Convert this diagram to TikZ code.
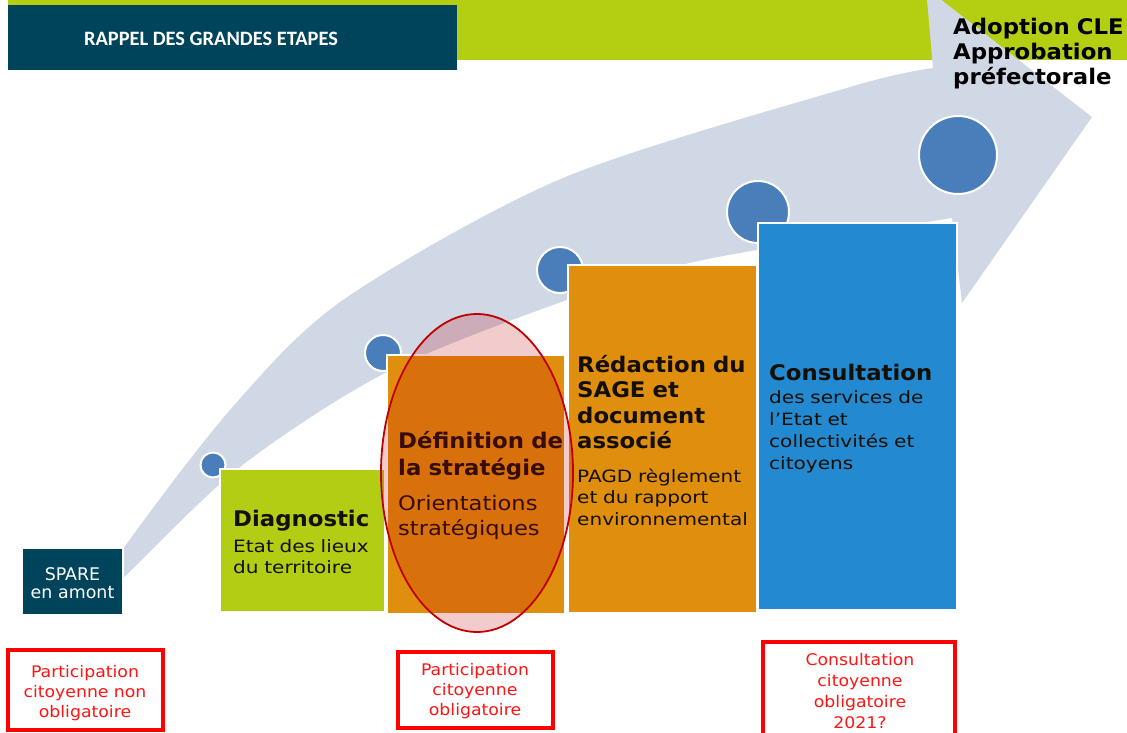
\documentclass[tikz,border=0pt]{standalone}
\usepackage{fontspec}
\usetikzlibrary{shapes.geometric}
\newfontfamily\fR[FakeStretch=1.18]{DejaVu Sans}
\newfontfamily\fB[FakeStretch=1.06]{DejaVu Sans}
\newfontfamily\fO[FakeStretch=1.13]{DejaVu Sans}
\newfontfamily\fN{DejaVu Sans}
\newfontfamily\fM[FakeStretch=1.08]{DejaVu Sans}
\newfontfamily\fH{Carlito}
\definecolor{cGreen}{RGB}{180,206,18}
\definecolor{cNavy}{RGB}{0,68,92}
\definecolor{cArrow}{RGB}{208,216,230}
\definecolor{cDot}{RGB}{74,126,187}
\definecolor{cOrange}{RGB}{223,142,14}
\definecolor{cBlue}{RGB}{35,137,208}
\definecolor{cLime}{RGB}{179,204,20}
\definecolor{cEll}{RGB}{190,0,0}
\definecolor{cEdge}{RGB}{192,0,0}
\definecolor{cTxt}{RGB}{20,15,5}
\definecolor{cRed}{RGB}{255,20,20}
\begin{document}
\begin{tikzpicture}[x=1pt,y=-1pt,
  dot/.style={circle,fill=cDot,draw=white,line width=2pt,inner sep=0pt},
  stepbox/.style={rectangle,draw=white,line width=1.2pt,inner sep=0pt},
  redbox/.style={rectangle,draw=red,line width=3.5pt,inner sep=0pt},
  ttl/.style={anchor=base west,inner sep=0pt,align=left,text width=260pt,text=cTxt,
     font=\fB\bfseries\fontsize{21.5}{25.5}\selectfont},
  bdy/.style={anchor=base west,inner sep=0pt,align=left,text width=260pt,text=cTxt,
     font=\fR\fontsize{17}{21.8}\selectfont},
  rtxt/.style={anchor=base,inner sep=0pt,align=center,text width=190pt,text=cRed,
     font=\fM\fontsize{16}{20.3}\selectfont}]
\useasboundingbox (0,0) rectangle (1127,733);
% top band
\fill[cGreen] (8,0) rectangle (1127,60);
\node[rectangle,fill=cNavy,minimum width=449pt,minimum height=65pt,inner sep=0pt] (hdr) at (232.5,37.5) {};
\node[anchor=base,inner sep=0pt,text=white,font=\fH\bfseries\fontsize{20.4}{22}\selectfont] (hdrtxt) at (211,46) {RAPPEL DES GRANDES ETAPES};
% big arrow
\fill[cArrow] (98,595) -- plot[smooth,tension=0.5] coordinates {(98,595) (123,549) (230,410) (343,300) (563,178) (850,87) (933,68)}
  -- (926,-12) -- (1092,117) -- (962,303) -- (952,218)
  -- plot[smooth,tension=0.5] coordinates {(952,218) (703,260) (567,300) (387,372) (240,467) (123,578) (98,595)} -- cycle;
% dots
\node[dot,minimum size=25pt] (d1) at (213,465) {};
\node[dot,minimum size=36pt] (d2) at (383,353) {};
\node[dot,minimum size=46pt] (d3) at (560,270) {};
\node[dot,minimum size=62pt] (d4) at (758,212) {};
\node[dot,minimum size=78pt] (d5) at (958,155) {};
% boxes
\node[stepbox,fill=cNavy,minimum width=101pt,minimum height=67pt] (spare) at (72.5,581.5) {};
\node[stepbox,fill=cLime,minimum width=165pt,minimum height=143pt] (diag) at (302.5,540.5) {};
\node[stepbox,fill=cOrange,minimum width=178pt,minimum height=259pt] (defn) at (476,484.5) {};
\node[stepbox,fill=cOrange,minimum width=189pt,minimum height=348pt] (redac) at (662.5,439) {};
\node[stepbox,fill=cBlue,minimum width=199pt,minimum height=387pt] (consult) at (857.5,416.5) {};
% texts
\node[anchor=base,inner sep=0pt,align=center,text width=100pt,text=white,font=\fN\fontsize{17.4}{18.5}\selectfont] (sparetxt) at (72.5,580) {SPARE\\en amont};
\node[ttl] (diagt) at (233,526) {Diagnostic};
\node[bdy] (diagb) at (233,552) {Etat des lieux\\du territoire};
\node[ttl,font=\fB\bfseries\fontsize{21.5}{27}\selectfont] (defnt) at (398,448) {Définition de\\la stratégie};
\node[bdy,font=\fO\fontsize{20}{25}\selectfont] (defnb) at (398,510) {Orientations\\stratégiques};
\node[ttl] (redact) at (577,372) {Rédaction du\\SAGE et\\document\\associé};
\node[bdy] (redacb) at (577,482) {PAGD règlement\\et du rapport\\environnemental};
\node[ttl] (consultt) at (769,380) {Consultation};
\node[bdy,font=\fR\fontsize{17}{22.2}\selectfont] (consultb) at (769,403) {des services de\\l’Etat et\\collectivités et\\citoyens};
\node[ttl,text=black,font=\fB\bfseries\fontsize{21.5}{24.7}\selectfont] (adopt) at (953,35) {Adoption CLE\\Approbation\\préfectorale};
% ellipse highlight
\node[ellipse,draw=cEdge,line width=1.8pt,fill=cEll,fill opacity=0.2,minimum width=192pt,minimum height=318pt,inner sep=0pt] (ell) at (477,473) {};
% red boxes
\node[redbox,minimum width=155pt,minimum height=80pt] (p1) at (85.5,690) {};
\node[redbox,minimum width=155pt,minimum height=76pt] (p2) at (475.5,690) {};
\node[redbox,minimum width=192pt,minimum height=103pt] (p3) at (859,693.5) {};
\node[rtxt] (p1t) at (85,677) {Participation\\citoyenne non\\obligatoire};
\node[rtxt] (p2t) at (475,675) {Participation\\citoyenne\\obligatoire};
\node[rtxt,font=\fM\fontsize{16}{21}\selectfont] (p3t) at (860,665) {Consultation\\citoyenne\\obligatoire\\2021?};
\end{tikzpicture}
\end{document}
